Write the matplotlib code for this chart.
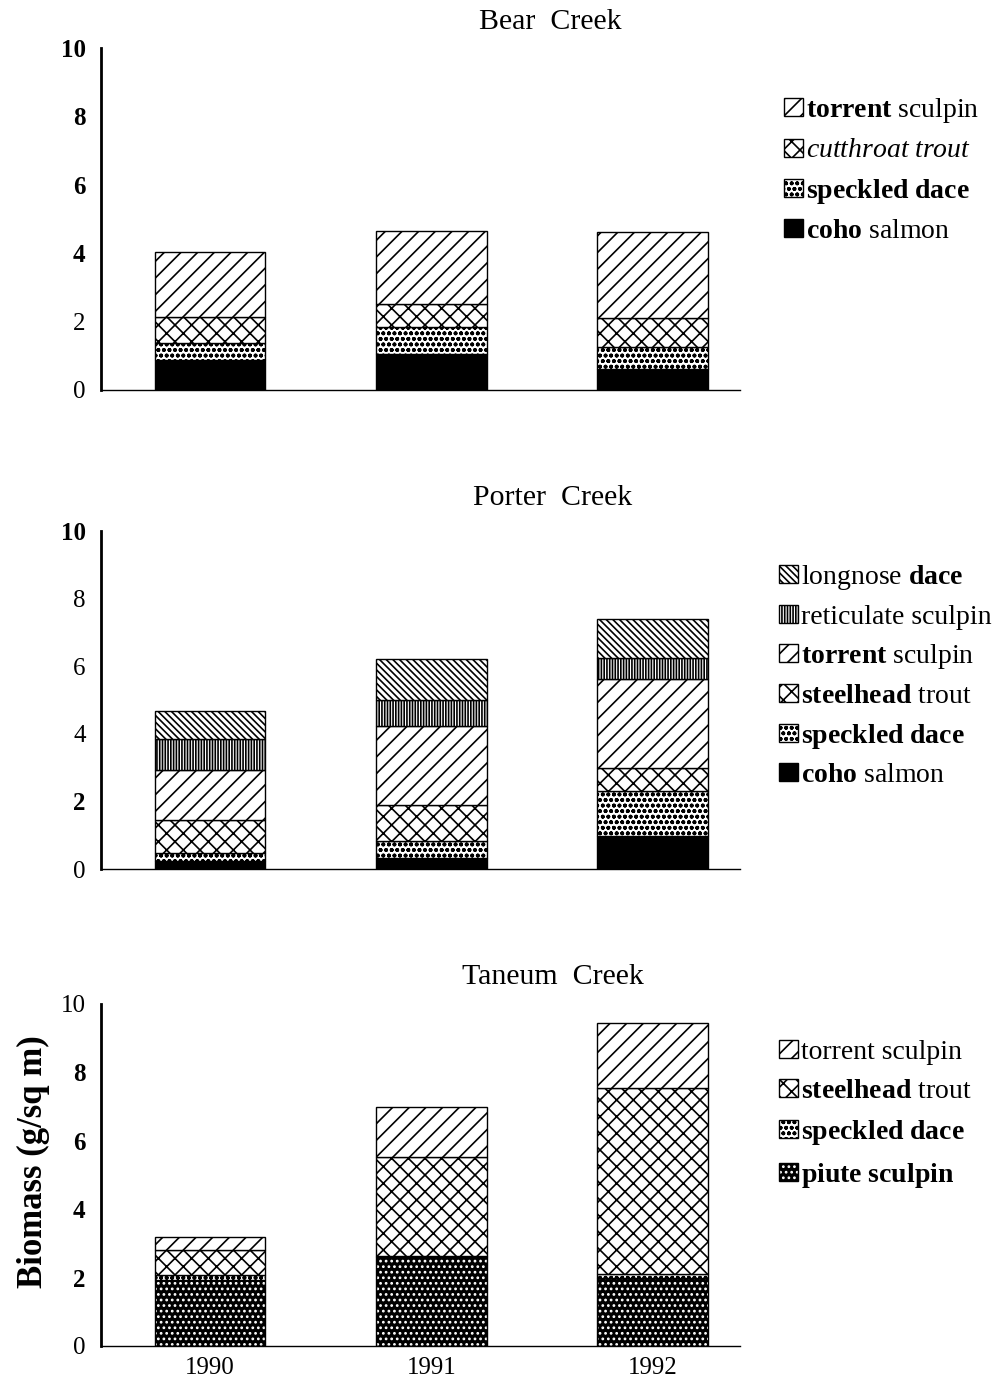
import matplotlib
matplotlib.use("Agg")
import matplotlib.pyplot as plt
from matplotlib.legend_handler import HandlerTuple

# ---------------- data ----------------
years = ["1990", "1991", "1992"]

bear_coho = [0.88, 1.05, 0.61]
bear_speckled = [0.49, 0.80, 0.64]
bear_cutthroat = [0.77, 0.66, 0.85]
bear_torrent = [1.90, 2.13, 2.52]

porter_coho = [0.23, 0.33, 0.99]
porter_speckled = [0.23, 0.49, 1.31]
porter_steelhead = [0.99, 1.06, 0.68]
porter_torrent = [1.48, 2.34, 2.63]
porter_reticulate = [0.91, 0.78, 0.64]
porter_longnose = [0.82, 1.20, 1.15]

taneum_piute = [1.93, 2.59, 1.98]
taneum_speckled = [0.15, 0.03, 0.13]
taneum_steelhead = [0.73, 2.92, 5.43]
taneum_torrent = [0.37, 1.46, 1.90]

yticks = [0, 2, 4, 6, 8, 10]

# ---------------- style ----------------
plt.rcParams.update({
    "font.family": "Liberation Serif",
    "mathtext.fontset": "custom",
    "mathtext.rm": "Liberation Serif",
    "mathtext.bf": "Liberation Serif:bold",
    "mathtext.it": "Liberation Serif:italic",
    "hatch.linewidth": 1.2,
})

W, H = 1003, 1383
fig = plt.figure(figsize=(W / 100, H / 100), dpi=100)

STYLES = {
    "coho": dict(facecolor="black", edgecolor="black", hatch=None),
    "speckled": dict(facecolor="white", edgecolor="black", hatch="ooo"),
    "trout": dict(facecolor="white", edgecolor="black", hatch="xx"),
    "torrent": dict(facecolor="white", edgecolor="black", hatch="//"),
    "reticulate": dict(facecolor="white", edgecolor="black", hatch="||||||"),
    "longnose": dict(facecolor="white", edgecolor="black", hatch="\\" * 5),
}


def make_axes(top, bottom, left=101, right=740):
    return fig.add_axes([left / W, 1 - bottom / H, (right - left) / W, (bottom - top) / H])


def style_axes(ax, bold):
    ax.set_ylim(0, 10)
    ax.set_xlim(-0.4925, 2.395)
    ax.spines["top"].set_visible(False)
    ax.spines["right"].set_visible(False)
    ax.spines["left"].set_linewidth(2.0)
    ax.spines["bottom"].set_linewidth(1.0)
    ax.set_yticks(yticks)
    ax.tick_params(axis="y", length=0, pad=11, labelsize=18)
    ax.tick_params(axis="x", length=0)
    for lbl, b in zip(ax.get_yticklabels(), bold):
        lbl.set_fontweight("bold" if b else "normal")


def draw_stack(ax, segments):
    x = list(range(len(years)))
    bottom = [0.0] * len(years)
    handles = []
    for vals, kind in segments:
        if kind == "piute":
            fill = ax.bar(x, vals, 0.5, bottom=bottom, facecolor="black",
                          edgecolor="white", hatch="...", linewidth=0)
            outline = ax.bar(x, vals, 0.5, bottom=bottom, fill=False,
                             edgecolor="black", linewidth=1.0)
            handles.append((fill[0], outline[0]))
        else:
            st = STYLES[kind]
            bc = ax.bar(x, vals, 0.5, bottom=bottom, linewidth=1.0, **st)
            handles.append(bc[0])
        bottom = [b + v for b, v in zip(bottom, vals)]
    return handles


def add_legend(ax, handles, labels, left_px, top_px, spacing=0.50):
    ax.legend(handles[::-1], labels[::-1], loc="upper left",
              bbox_to_anchor=(left_px / W, 1 - top_px / H),
              bbox_transform=fig.transFigure, frameon=False,
              borderpad=0, borderaxespad=0, fontsize=20,
              handlelength=0.68, handleheight=0.62, handletextpad=0.1,
              labelspacing=spacing,
              handler_map={tuple: HandlerTuple(ndivide=1, pad=0)})


# ---------------- Bear Creek ----------------
ax1 = make_axes(48, 390)
h1 = draw_stack(ax1, [(bear_coho, "coho"), (bear_speckled, "speckled"),
                      (bear_cutthroat, "trout"), (bear_torrent, "torrent")])
style_axes(ax1, [False, False, True, True, True, True])
ax1.set_xticks([])
add_legend(ax1, h1, [r"$\mathbf{coho}$ salmon", r"$\mathbf{speckled\ dace}$",
                     r"$\mathit{cutthroat\ trout}$", r"$\mathbf{torrent}$ sculpin"],
           784, 96, 0.48)
fig.text(550 / W, 1 - 22 / H, "Bear  Creek", ha="center", va="center", fontsize=21.5)

# ---------------- Porter Creek ----------------
ax2 = make_axes(531, 869)
h2 = draw_stack(ax2, [(porter_coho, "coho"), (porter_speckled, "speckled"),
                      (porter_steelhead, "trout"), (porter_torrent, "torrent"),
                      (porter_reticulate, "reticulate"), (porter_longnose, "longnose")])
style_axes(ax2, [False, True, False, False, False, True])
ax2.set_xticks([])
add_legend(ax2, h2, [r"$\mathbf{coho}$ salmon", r"$\mathbf{speckled\ dace}$",
                     r"$\mathbf{steelhead}$ trout", r"$\mathbf{torrent}$ sculpin",
                     r"reticulate sculpin", r"longnose $\mathbf{dace}$"],
           779, 563, 0.455)
fig.text(553 / W, 1 - 498 / H, "Porter  Creek", ha="center", va="center", fontsize=21.5)

# ---------------- Taneum Creek ----------------
ax3 = make_axes(1004, 1346)
h3 = draw_stack(ax3, [(taneum_piute, "piute"), (taneum_speckled, "speckled"),
                      (taneum_steelhead, "trout"), (taneum_torrent, "torrent")])
style_axes(ax3, [False, True, True, True, True, False])
ax3.set_xticks(range(len(years)))
ax3.set_xticklabels(years, fontsize=18)
ax3.tick_params(axis="x", pad=8)
add_legend(ax3, h3, [r"$\mathbf{piute\ sculpin}$", r"$\mathbf{speckled\ dace}$",
                     r"$\mathbf{steelhead}$ trout", r"torrent sculpin"],
           779, 1040, 0.50)
fig.text(553 / W, 1 - 977 / H, "Taneum  Creek", ha="center", va="center", fontsize=21.5)
fig.text(33 / W, 1 - 1162 / H, "Biomass (g/sq m)", rotation=90, ha="center",
         va="center", fontsize=25, fontweight="bold")

fig.savefig("out.png", dpi=100)
